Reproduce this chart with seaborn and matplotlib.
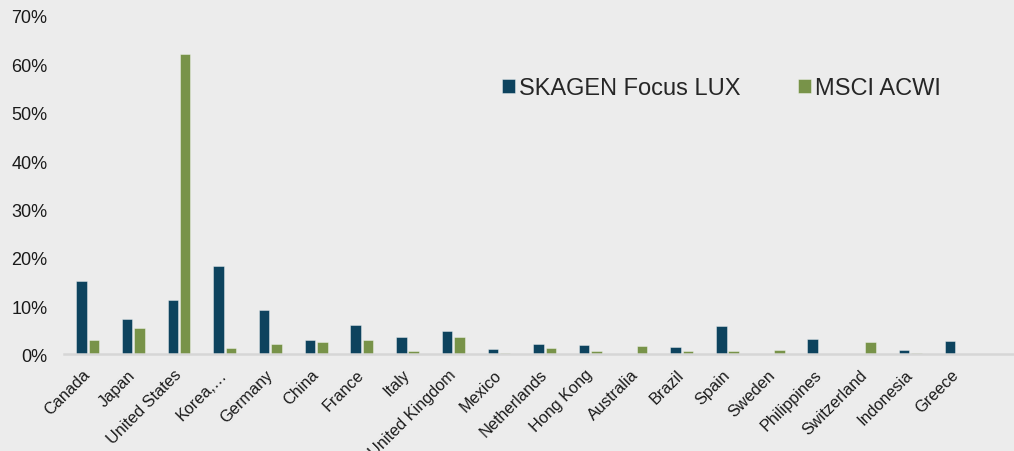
import pandas as pd
import matplotlib
matplotlib.use("Agg")
import matplotlib.pyplot as plt
import seaborn as sns
from matplotlib.ticker import FuncFormatter

# ---------------- DATA ----------------
countries = ["Canada", "Japan", "United States", "Korea,…", "Germany", "China",
             "France", "Italy", "United Kingdom", "Mexico", "Netherlands",
             "Hong Kong", "Australia", "Brazil", "Spain", "Sweden",
             "Philippines", "Switzerland", "Indonesia", "Greece"]
skagen = [15.2, 7.3, 11.3, 18.3, 9.2, 2.9, 6.2, 3.7, 4.8, 1.1, 2.2,
          2.0, 0.0, 1.5, 5.8, 0.0, 3.3, 0.0, 0.9, 2.8]
msci = [3.0, 5.5, 62.1, 1.3, 2.2, 2.6, 2.9, 0.8, 3.6, 0.4, 1.4,
        0.7, 1.8, 0.7, 0.7, 0.9, 0.2, 2.6, 0.3, 0.2]
series_names = ["SKAGEN Focus LUX", "MSCI ACWI"]
# --------------------------------------

BG = "#ececec"
COLORS = ["#00476b", "#7b9f3d"]

df = pd.DataFrame({"country": countries, series_names[0]: skagen, series_names[1]: msci})
long_df = df.melt(id_vars="country", var_name="series", value_name="weight")

sns.set_style("white")
plt.rcParams["font.family"] = ["Liberation Sans", "DejaVu Sans"]

fig = plt.figure(figsize=(10.14, 4.52), dpi=100, facecolor=BG)
ax = fig.add_axes([0.0634, 0.2135, 0.9366, 0.749])
ax.set_facecolor(BG)

sns.barplot(data=long_df, x="country", y="weight", hue="series",
            hue_order=series_names, palette=COLORS, width=0.54, gap=0.15,
            edgecolor=(1, 1, 1, 0.45), linewidth=0.6, ax=ax)

ax.set_xlim(-0.51, 20.27)
ax.set_ylim(0, 70)
ax.set_yticks(range(0, 71, 10))
ax.yaxis.set_major_formatter(FuncFormatter(lambda v, _: f"{v:.0f}%"))
ax.set_xlabel("")
ax.set_ylabel("")

for s in ["top", "right", "left"]:
    ax.spines[s].set_visible(False)
ax.spines["bottom"].set_color("#d6d6d6")
ax.spines["bottom"].set_linewidth(1.8)

ax.tick_params(axis="y", length=0, pad=12, labelsize=13, labelcolor="#1a1a1a")
ax.tick_params(axis="x", length=0, pad=12.5, labelsize=11.7, labelcolor="#1a1a1a")
for lbl in ax.get_xticklabels():
    lbl.set_rotation(45)
    lbl.set_ha("right")
    lbl.set_va("center")
    lbl.set_rotation_mode("anchor")

ax.legend_.remove()
handles, labels = ax.get_legend_handles_labels()
fig.legend(handles, labels, loc="center left", bbox_to_anchor=(0.4948, 0.802),
           ncol=2, frameon=False, fontsize=17, handlelength=0.55, handleheight=0.55,
           handletextpad=0.2, columnspacing=2.4, borderpad=0, borderaxespad=0)

fig.savefig("out.png", dpi=100, facecolor=BG)
